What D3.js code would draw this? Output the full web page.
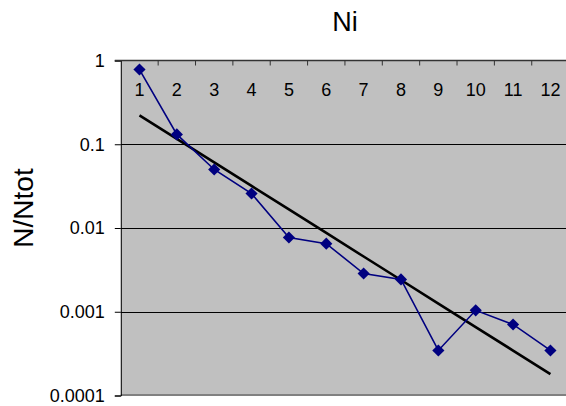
<!DOCTYPE html>
<html>
<head>
<meta charset="utf-8">
<script src="https://cdn.jsdelivr.net/npm/d3@7"></script>
<style>
  html, body { margin: 0; padding: 0; background: #fff; }
  svg { display: block; font-family: "Liberation Sans", Arial, sans-serif; }
</style>
</head>
<body>
<svg id="chart" width="566" height="406"></svg>
<script>
// ---- data ----
const categories = ["1","2","3","4","5","6","7","8","9","10","11","12"];
const values = [0.78, 0.131, 0.050, 0.0258, 0.0077, 0.0065, 0.00286, 0.00243, 0.000345, 0.00104, 0.000705, 0.000345];
const yTickValues = [1, 0.1, 0.01, 0.001, 0.0001];
const yTickLabels = ["1", "0.1", "0.01", "0.001", "0.0001"];
const chartTitle = "Ni";
const yTitle = "N/Ntot";

// ---- layout ----
const svg = d3.select("#chart");
const pLeft = 120.8, pRight = 569.1, pTop = 60.5, pBottom = 395.5;

const x = d3.scaleBand().domain(categories).range([pLeft, pRight]).padding(0);
const cx = c => x(c) + x.bandwidth() / 2;
const y = d3.scaleLog().domain([0.0001, 1]).range([pBottom, pTop]);

// plot background
svg.append("rect")
  .attr("x", pLeft).attr("y", pTop)
  .attr("width", pRight - pLeft).attr("height", pBottom - pTop)
  .attr("fill", "#c0c0c0");

// gridlines
svg.append("g").selectAll("line")
  .data(yTickValues.filter(v => v > 0.0001 && v < 1))
  .join("line")
  .attr("x1", pLeft).attr("x2", pRight)
  .attr("y1", d => Math.round(y(d)) + 0.5).attr("y2", d => Math.round(y(d)) + 0.5)
  .attr("stroke", "#000").attr("stroke-width", 1);

// bottom border
svg.append("line")
  .attr("x1", pLeft).attr("x2", pRight)
  .attr("y1", pBottom - 0.5).attr("y2", pBottom - 0.5)
  .attr("stroke", "#808080").attr("stroke-width", 2);

// y axis (left)
const yAxis = d3.axisLeft(y)
  .tickValues(yTickValues)
  .tickFormat((d, i) => yTickLabels[i])
  .tickSize(6).tickPadding(10);
const gy = svg.append("g").attr("transform", `translate(${pLeft},0)`).call(yAxis);
gy.select(".domain").attr("stroke", "#000");
gy.selectAll(".tick line").attr("stroke", "#000");
gy.selectAll(".tick text")
  .attr("font-size", 18).attr("fill", "#000")
  .attr("font-family", "Liberation Sans, Arial, sans-serif");

// x axis (top) : line + inward ticks at band boundaries
const gx = svg.append("g");
gx.append("line")
  .attr("x1", pLeft - 6).attr("x2", pRight)
  .attr("y1", pTop).attr("y2", pTop)
  .attr("stroke", "#333").attr("stroke-width", 1.5);
gx.selectAll("line.tk")
  .data(categories)
  .join("line").attr("class", "tk")
  .attr("x1", d => x(d) + x.bandwidth()).attr("x2", d => x(d) + x.bandwidth())
  .attr("y1", pTop).attr("y2", pTop + 5)
  .attr("stroke", "#333").attr("stroke-width", 1);
gx.selectAll("text")
  .data(categories)
  .join("text")
  .attr("x", d => cx(d)).attr("y", 95.5)
  .attr("text-anchor", "middle")
  .attr("font-size", 18).attr("fill", "#000")
  .text(d => d);

// exponential trendline (least squares on log10 values)
const xs = categories.map((c, i) => i + 1);
const ls = values.map(v => Math.log10(v));
const mx = d3.mean(xs), ml = d3.mean(ls);
const slope = d3.sum(xs.map((xi, i) => (xi - mx) * (ls[i] - ml))) / d3.sum(xs.map(xi => (xi - mx) ** 2));
const icpt = ml - slope * mx;
const trend = categories.map((c, i) => ({c, v: Math.pow(10, icpt + slope * (i + 1))}));
svg.append("path")
  .datum(trend)
  .attr("fill", "none").attr("stroke", "#000").attr("stroke-width", 2.6)
  .attr("d", d3.line().x(d => cx(d.c)).y(d => y(d.v)));

// data series
const series = categories.map((c, i) => ({c, v: values[i]}));
svg.append("path")
  .datum(series)
  .attr("fill", "none").attr("stroke", "#000080").attr("stroke-width", 1.6)
  .attr("d", d3.line().x(d => cx(d.c)).y(d => y(d.v)));
svg.append("g").selectAll("path")
  .data(series)
  .join("path")
  .attr("d", d3.symbol(d3.symbolSquare, 74)())
  .attr("transform", d => `translate(${cx(d.c)},${y(d.v)}) rotate(45)`)
  .attr("fill", "#000080");

// titles
svg.append("text")
  .attr("x", 345).attr("y", 31)
  .attr("text-anchor", "middle")
  .attr("font-size", 27).attr("fill", "#000")
  .text(chartTitle);
svg.append("text")
  .attr("transform", "translate(33,208) rotate(-90)")
  .attr("text-anchor", "middle")
  .attr("font-size", 28).attr("fill", "#000")
  .text(yTitle);
</script>
</body>
</html>
